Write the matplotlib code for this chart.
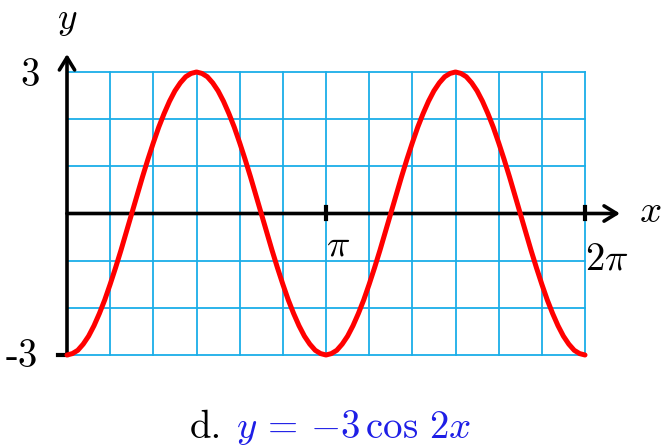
import numpy as np
import matplotlib
matplotlib.use("Agg")
import matplotlib.pyplot as plt

plt.rcParams['mathtext.fontset'] = 'cm'

# curve samples, every pi/48 (one period = 48 samples)
xs = [k * np.pi / 48 for k in range(97)]
period = [-3, -2.97, -2.90, -2.77, -2.60, -2.38, -2.12, -1.83, -1.5, -1.15, -0.78, -0.39,
          0, 0.39, 0.78, 1.15, 1.5, 1.83, 2.12, 2.38, 2.60, 2.77, 2.90, 2.97,
          3, 2.97, 2.90, 2.77, 2.60, 2.38, 2.12, 1.83, 1.5, 1.15, 0.78, 0.39,
          0, -0.39, -0.78, -1.15, -1.5, -1.83, -2.12, -2.38, -2.60, -2.77, -2.90, -2.97]
ys = period + period + [-3]

x_grid = [k * np.pi / 6 for k in range(13)]
y_grid = [-3, -2, -1, 0, 1, 2, 3]

W, H = 663, 446
fig = plt.figure(figsize=(W / 100, H / 100), dpi=100)
ax = fig.add_axes([0, 0, 1, 1])
sx = 2 * np.pi / 518
sy = 6 / 283
ax.set_xlim(-67 * sx, 2 * np.pi + (W - 585) * sx)
ax.set_ylim(-3 - (H - 355) * sy, 3 + 72 * sy)
ax.axis('off')

def px(x):
    return (x - 67) * sx

def py(y):
    return 3 - (y - 72) * sy

grid_col = '#1aaee8'
for gx in x_grid:
    ax.plot([gx, gx], [-3, 3], color=grid_col, lw=1.3, zorder=1)
for gy in y_grid:
    ax.plot([0, 2 * np.pi], [gy, gy], color=grid_col, lw=1.3, zorder=1)

# axes with arrows
arrow = dict(arrowstyle='->,head_length=0.9,head_width=0.55', mutation_scale=10,
             lw=2.6, color='black', shrinkA=0, shrinkB=0)
ax.annotate('', xy=(px(620), 0), xytext=(0, 0), arrowprops=arrow, zorder=3)
ax.annotate('', xy=(0, py(54)), xytext=(0, -3), arrowprops=arrow, zorder=3)

# ticks
for tx in [np.pi, 2 * np.pi]:
    ax.plot([tx, tx], [-6 * sy, 6 * sy], color='black', lw=3, zorder=3)
ax.plot([px(58), 0], [-3, -3], color='black', lw=3, zorder=3)

ax.plot(xs, ys, color='#ff0000', lw=3.6, zorder=4,
        solid_capstyle='round', solid_joinstyle='round')

fs = 28
ax.text(px(67), py(29), '$y$', fontsize=fs - 1, ha='center', va='baseline')
ax.text(px(650), py(222), '$x$', fontsize=fs, ha='center', va='baseline')
ax.text(px(30), py(86), '$3$', fontsize=fs, ha='center', va='baseline')
ax.text(px(22), py(367), '-3', fontsize=fs, family='cmr10', ha='center', va='baseline')
ax.text(px(338), py(256), r'$\pi$', fontsize=fs, ha='center', va='baseline')
ax.text(px(607), py(269), r'$2\pi$', fontsize=fs, ha='center', va='baseline')

ax.text(px(222), py(438), 'd.', fontsize=fs, family='cmr10', ha='right', va='baseline')
ax.text(px(236), py(438), r'$y\,=\,{-3}\,\cos\,2x$', fontsize=fs,
        color='#1e1ee6', ha='left', va='baseline')

fig.savefig('out.png', dpi=100)
